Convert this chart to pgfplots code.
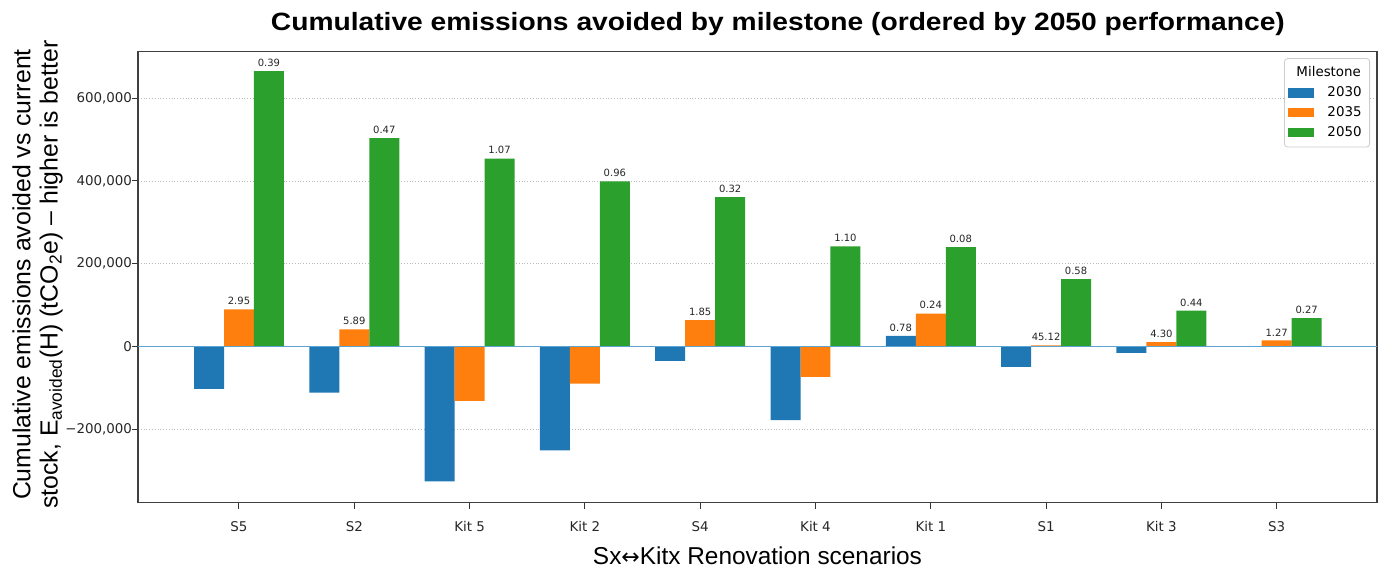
\documentclass[border=0pt]{standalone}
\usepackage{fontspec}
\setmainfont{DejaVu Sans}
\newfontfamily\labelfont{Liberation Sans}
\newfontfamily\arrowfont{DejaVu Sans}
\usepackage{graphicx}
\usepackage{pgfplots}
\usepackage{pgfplotstable}
\pgfplotsset{compat=1.18}

\definecolor{c2030}{HTML}{1F77B4}
\definecolor{c2035}{HTML}{FF7F0E}
\definecolor{c2050}{HTML}{2CA02C}
\definecolor{zeroline}{HTML}{5BA3D0}

% cumulative emissions avoided (tCO2e); lbl = ratio printed above positive bars
\pgfplotstableread{
x y lbl
0 -102000 {}
1 -111000 {}
2 -325000 {}
3 -250000 {}
4 -34000 {}
5 -177000 {}
6 26000 0.78
7 -49000 {}
8 -15000 {}
}\tabA
\pgfplotstableread{
x y lbl
0 90000 2.95
1 42000 5.89
2 -131000 {}
3 -89000 {}
4 64000 1.85
5 -73000 {}
6 80000 0.24
7 3000 45.12
8 11000 4.30
9 15000 1.27
}\tabB
\pgfplotstableread{
x y lbl
0 665000 0.39
1 503000 0.47
2 454000 1.07
3 399000 0.96
4 361000 0.32
5 242000 1.10
6 240000 0.08
7 163000 0.58
8 87000 0.44
9 69000 0.27
}\tabC

\pgfplotsset{
  milestone/.style={
    fill=#1, draw=none,
    point meta=explicit symbolic,
    nodes near coords={\pgfplotspointmeta},
    every node near coord/.append style={font=\fontsize{5}{6}\selectfont, text=black!85, inner sep=1pt, yshift=1pt},
    legend image code/.code={\fill[#1, sharp corners] (0pt,-2.3pt) rectangle (13pt,2.3pt);},
  },
}

\begin{document}
\begin{tikzpicture}
\useasboundingbox (-69pt,-33.75pt) rectangle (625.5pt,251.25pt);
\begin{axis}[
  scale only axis, width=619.5pt, height=225.65pt,
  ybar, bar width=0.26,
  xmin=-0.876, xmax=9.87, ymin=-376000, ymax=713000,
  xtick={0,...,9},
  xticklabels={S5,S2,Kit 5,Kit 2,S4,Kit 4,Kit 1,S1,Kit 3,S3},
  ytick={-200000,0,200000,400000,600000},
  yticklabels={{−200,000},{0},{200,000},{400,000},{600,000}},
  scaled y ticks=false,
  tick align=outside, tick pos=left, major tick length=3pt,
  tick style={black!80, line width=0.5pt},
  ymajorgrids, grid style={densely dotted, gray!55, line width=0.4pt},
  axis line style={black!75, line width=0.6pt},
  ticklabel style={font=\fontsize{6.7}{8}\selectfont, text=black!85},
  xticklabel style={yshift=-3pt},
  yticklabel style={xshift=3.5pt},
  title={\resizebox{507pt}{\height}{\labelfont\bfseries\fontsize{12.5}{15}\selectfont Cumulative emissions avoided by milestone (ordered by 2050 performance)}},
  title style={at={(axis description cs:0.5165,1.0448)}, anchor=base, yshift=-6pt},
  ylabel={Cumulative emissions avoided vs current\\stock, E\textsubscript{avoided}(H) (tCO\textsubscript{2}e) – higher is better},
  ylabel style={at={(axis description cs:-0.081,0.505)}, anchor=center, align=center,
    font=\labelfont\fontsize{12.4}{13.6}\selectfont},
  xlabel={Sx{\arrowfont\fontsize{11}{13}\selectfont↔}Kitx Renovation scenarios},
  xlabel style={at={(axis description cs:0.5,-0.118)}, anchor=center,
    font=\labelfont\fontsize{12.2}{13}\selectfont},
  legend cell align=left,
  legend style={at={(axis description cs:1,1)}, anchor=north east, xshift=-3.5pt, yshift=-3.5pt,
    draw=black!20, rounded corners=1.5pt, font=\fontsize{6.7}{8}\selectfont,
    row sep=-0.6pt, inner sep=2pt},
]
\addlegendimage{empty legend}
\addlegendentry{\hspace{-11pt}Milestone}
\addplot[milestone=c2030, bar shift=-0.26] table[x=x, y=y, meta=lbl] {\tabA};
\addlegendentry{\hspace{4.5pt}2030}
\addplot[milestone=c2035, bar shift=0] table[x=x, y=y, meta=lbl] {\tabB};
\addlegendentry{\hspace{4.5pt}2035}
\addplot[milestone=c2050, bar shift=0.26] table[x=x, y=y, meta=lbl] {\tabC};
\addlegendentry{\hspace{4.5pt}2050}
\draw[zeroline, line width=0.7pt] (axis cs:-0.876,0) -- (axis cs:9.87,0);
\end{axis}
\end{tikzpicture}
\end{document}
